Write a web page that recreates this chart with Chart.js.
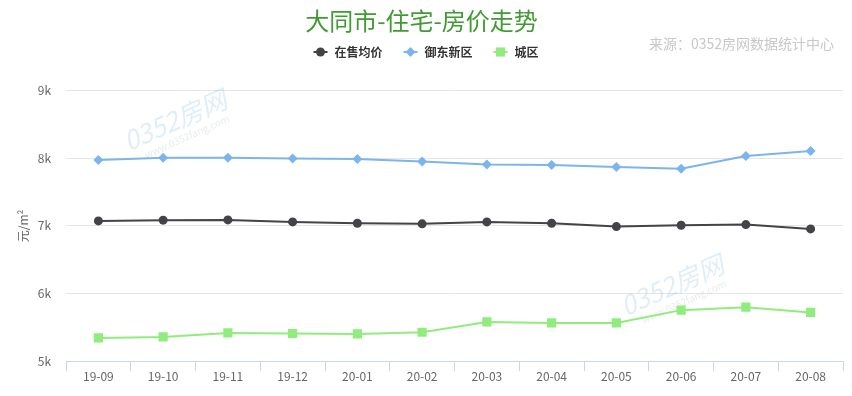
<!DOCTYPE html>
<html><head><meta charset="utf-8">
<script src="https://cdn.jsdelivr.net/npm/chart.js@4/dist/chart.umd.min.js"></script>
<style>html,body{margin:0;padding:0;background:#fff}#wrap{width:852px;height:396px}</style>
</head>
<body><div id="wrap"><canvas id="c" width="852" height="396"></canvas></div>
<script>
const categories = ['19-09','19-10','19-11','19-12','20-01','20-02','20-03','20-04','20-05','20-06','20-07','20-08'];
const avgPrice    = [7074, 7085, 7089, 7059, 7040, 7030, 7059, 7040, 6990, 7010, 7019, 6955];
const yudongPrice = [7975, 8010, 8010, 7999, 7990, 7955, 7910, 7901, 7871, 7846, 8035, 8109];
const cityPrice   = [5341, 5356, 5416, 5407, 5401, 5426, 5579, 5564, 5564, 5753, 5797, 5719];
const seriesNames = ['在售均价', '御东新区', '城区'];
const yMin = 5000, yMax = 9000, yStep = 1000;
const titleText = '大同市-住宅-房价走势';
const sourceText = '来源：0352房网数据统计中心';
const yTitleText = '元/m²';

const FONT = "'Noto Sans CJK SC', 'Noto Sans', sans-serif";

const extrasPlugin = {
  id: 'extras',
  beforeDatasetsDraw(chart) {
    const ctx = chart.ctx;
    ctx.save();
    const marks = [[175, 120], [672, 285]];
    marks.forEach(([x, y]) => {
      ctx.save();
      ctx.translate(x, y);
      ctx.rotate(-0.42);
      ctx.globalAlpha = 0.22;
      ctx.fillStyle = '#6fb3e0';
      ctx.font = "italic 26px " + FONT;
      ctx.textAlign = 'center';
      ctx.textBaseline = 'middle';
      ctx.fillText('0352房网', 0, 0);
      ctx.font = "10px " + FONT;
      ctx.fillStyle = '#9aa';
      ctx.fillText('www.0352fang.com', 4, 20);
      ctx.restore();
    });
    ctx.restore();
  },
  afterDraw(chart) {
    const ctx = chart.ctx;
    ctx.save();
    // source text
    ctx.font = "14px " + FONT;
    ctx.fillStyle = '#c8c8c8';
    ctx.textAlign = 'right';
    ctx.textBaseline = 'middle';
    ctx.fillText(sourceText, 834, 44);
    // legend
    ctx.font = "bold 12px " + FONT;
    const symW = 14, gapText = 7, gapItem = 21;
    const ds = chart.data.datasets;
    const widths = ds.map(d => symW + gapText + ctx.measureText(d.label).width);
    const total = widths.reduce((a, b) => a + b, 0) + gapItem * (ds.length - 1);
    let x = chart.width / 2 - total / 2;
    const y = 52;
    ds.forEach((d, i) => {
      ctx.strokeStyle = d.borderColor;
      ctx.lineWidth = 2;
      ctx.beginPath();
      ctx.moveTo(x, y);
      ctx.lineTo(x + symW, y);
      ctx.stroke();
      ctx.fillStyle = d.pointBackgroundColor;
      Chart.helpers.drawPoint(ctx, {pointStyle: d.pointStyle, radius: d.pointRadius, borderWidth: 0, rotation: 0}, x + symW / 2, y);
      ctx.fillStyle = '#333333';
      ctx.textAlign = 'left';
      ctx.fillText(d.label, x + symW + gapText, y);
      x += widths[i] + gapItem;
    });
    ctx.restore();
  }
};

new Chart(document.getElementById('c'), {
  type: 'line',
  data: {
    labels: categories,
    datasets: [
      { label: seriesNames[0], data: avgPrice, borderColor: '#434348', backgroundColor: '#434348',
        pointBackgroundColor: '#434348', pointBorderWidth: 0, pointStyle: 'circle', pointRadius: 4.5, borderWidth: 2, tension: 0 },
      { label: seriesNames[1], data: yudongPrice, borderColor: '#7cb5ec', backgroundColor: '#7cb5ec',
        pointBackgroundColor: '#7cb5ec', pointBorderWidth: 0, pointStyle: 'rectRot', pointRadius: 5, borderWidth: 2, tension: 0 },
      { label: seriesNames[2], data: cityPrice, borderColor: '#90ed7d', backgroundColor: '#90ed7d',
        pointBackgroundColor: '#90ed7d', pointBorderWidth: 0, pointStyle: 'rect', pointRadius: 6.5, borderWidth: 2, tension: 0 }
    ]
  },
  options: {
    responsive: false,
    animation: false,
    devicePixelRatio: 1,
    layout: { padding: { left: 0, right: 9, top: 0, bottom: 0 } },
    plugins: {
      legend: { display: false },
      tooltip: { enabled: false },
      title: {
        display: true, text: titleText, color: '#3f9b32',
        font: { family: FONT, size: 24, weight: 'normal', lineHeight: 1.2 },
        padding: { top: 6, bottom: 56 }
      }
    },
    scales: {
      x: {
        offset: true,
        grid: { offset: true, drawOnChartArea: false, drawTicks: true, tickLength: 10, color: '#ccd6eb' },
        border: { display: true, color: '#ccd6eb', width: 1 },
        ticks: { color: '#666666', font: { family: FONT, size: 12 }, padding: -2, maxRotation: 0, autoSkip: false },
        afterFit(s) { s.height = 35; }
      },
      y: {
        min: yMin, max: yMax,
        grid: { color: (c) => c.tick && c.tick.value === yMin ? 'rgba(0,0,0,0)' : '#e6e6e6', drawTicks: false },
        border: { display: false },
        ticks: { stepSize: yStep, color: '#666666', font: { family: FONT, size: 12 }, padding: 15,
                 callback: (v) => (v / 1000) + 'k' },
        title: { display: true, text: yTitleText, color: '#666666', font: { family: FONT, size: 12 }, padding: { top: 16, bottom: 0 } },
        afterFit(s) { s.width = 66; }
      }
    }
  },
  plugins: [extrasPlugin]
});
</script>
</body></html>
